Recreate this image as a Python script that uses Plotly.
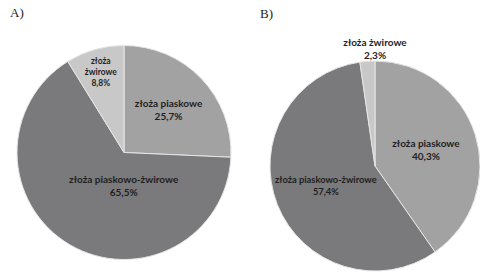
import plotly.graph_objects as go

categories = ["złoża piaskowe", "złoża piaskowo-żwirowe", "złoża żwirowe"]
values_a = [25.7, 65.5, 8.8]
values_b = [40.3, 57.4, 2.3]
labels_a = ["złoża piaskowe<br>25,7%", "złoża piaskowo-żwirowe<br>65,5%", "złoża<br>żwirowe<br>8,8%"]
labels_b = ["złoża piaskowe<br>40,3%", "złoża piaskowo-żwirowe<br>57,4%", ""]
title_b = "złoża żwirowe<br>2,3%"
colors = ["#a2a2a2", "#7a7a7c", "#c8c8c8"]

font = dict(family="Lato", size=10, color="#1e1e1e", weight="bold")

fig = go.Figure()
fig.add_trace(go.Pie(
    labels=categories, values=values_a, text=labels_a, textinfo="text",
    sort=False, direction="clockwise", rotation=0,
    marker=dict(colors=colors, line=dict(color="#e6e6e6", width=1)),
    textposition="inside", insidetextorientation="horizontal",
    textfont=font,
    domain=dict(x=[17/480, 231/480], y=[15/275, 230/275]),
    hoverinfo="label+percent", showlegend=False,
))
fig.add_trace(go.Pie(
    labels=categories, values=values_b, text=labels_b, textinfo="text",
    sort=False, direction="clockwise", rotation=0,
    marker=dict(colors=colors, line=dict(color="#e6e6e6", width=1)),
    textposition="inside", insidetextorientation="horizontal",
    textfont=font,
    title=dict(text=title_b, position="top center", font=font),
    domain=dict(x=[270/480, 480/480], y=[3/275, 240/275]),
    hoverinfo="label+percent", showlegend=False,
))

fig.add_annotation(text="A)", x=8/480, y=1-12/275, xref="paper", yref="paper",
                   xanchor="left", yanchor="middle", showarrow=False,
                   font=dict(family="Liberation Serif", size=13, color="#222"))
fig.add_annotation(text="B)", x=258/480, y=1-14/275, xref="paper", yref="paper",
                   xanchor="left", yanchor="middle", showarrow=False,
                   font=dict(family="Liberation Serif", size=13, color="#222"))

fig.update_layout(width=480, height=275, margin=dict(l=0, r=0, t=0, b=0),
                  paper_bgcolor="white", plot_bgcolor="white")
fig.write_html("out.html", config={"displayModeBar": False},
               post_script="document.body.style.margin='0';")
